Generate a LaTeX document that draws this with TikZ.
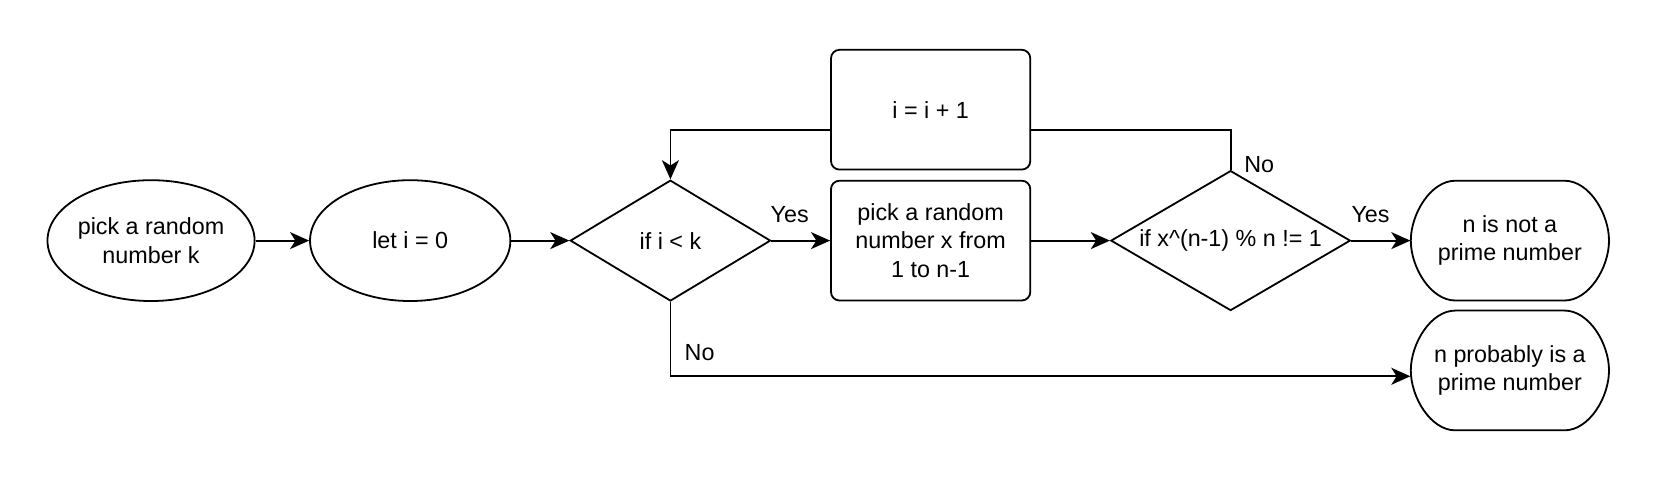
\documentclass[tikz,border=0pt]{standalone}
\usepackage{fontspec}
\setmainfont{Liberation Sans}
\usetikzlibrary{shapes.geometric,arrows.meta}
\begin{document}
\begin{tikzpicture}[x=0.5pt,y=-0.5pt,
  every node/.style={font=\fontsize{11}{13.5}\selectfont, align=center, inner sep=0pt},
  shp/.style={draw, line width=0.85pt},
  ell/.style={shp, ellipse, minimum width=94.5pt, minimum height=57pt},
  dia/.style={shp, diamond},
  stepbox/.style={shp, rectangle, rounded corners=4pt, minimum width=94pt, minimum height=56.5pt},
  term/.style={rectangle, minimum width=93.5pt, minimum height=56.5pt},
  arr/.style={line width=0.85pt, -{Stealth[length=9pt,width=8pt,inset=2.5pt]}},
  ln/.style={line width=0.85pt},
  lbl/.style={anchor=center}
]
\useasboundingbox (0,0) rectangle (1568,455);

\node[ell] (e1) at (142.5,227) {pick a random\\number k};
\node[ell] (e2) at (387,227) {let i = 0};
\node[dia, minimum width=94.5pt, minimum height=57pt] (d1) at (632.5,227) {};
\node (d1t) at (d1) {if i \textless{} k};
\node[stepbox] (r1) at (878,227) {pick a random\\number x from\\1 to n-1};
\node[stepbox] (r2) at (878,103.5) {i = i + 1};
\node[dia, minimum width=113pt, minimum height=66pt] (d2) at (1161,227) {};
\node (d2t) at (d2) {if x\textasciicircum(n-1) \% n != 1};
\node[term] (t1) at (1424.5,227) {n is not a\\prime number};
\node[term] (t2) at (1424.5,349.5) {n probably is a\\prime number};

\foreach \cy in {227,349.5}{
  \draw[ln] (1373,\cy-56.5) -- (1476,\cy-56.5)
    .. controls (1499.2,\cy-56.5) and (1518,\cy-25.3) .. (1518,\cy)
    .. controls (1518,\cy+25.3) and (1499.2,\cy+56.5) .. (1476,\cy+56.5)
    -- (1373,\cy+56.5)
    .. controls (1349.8,\cy+56.5) and (1331,\cy+25.3) .. (1331,\cy)
    .. controls (1331,\cy-25.3) and (1349.8,\cy-56.5) .. (1373,\cy-56.5) -- cycle;
}

\coordinate (k) at (1161,123);
\coordinate (m) at (632.5,355);

\draw[arr] (e1) -- (e2);
\draw[arr] (e2) -- (d1);
\draw[arr] (d1) -- (r1);
\draw[arr] (r1) -- (d2);
\draw[arr] (d2) -- (t1);
\draw[ln] (d2.north) -- (k) -- (k -| r2.east);
\draw[arr] (k -| r2.west) -| (d1.north);
\draw[arr] (d1.south) -- (m) -- (m -| t2.west);

\node[lbl] (l1) at (745,202) {Yes};
\node[lbl] (l2) at (1293,202) {Yes};
\node[lbl] (l3) at (1188,155) {No};
\node[lbl] (l4) at (660,333) {No};
\end{tikzpicture}
\end{document}
